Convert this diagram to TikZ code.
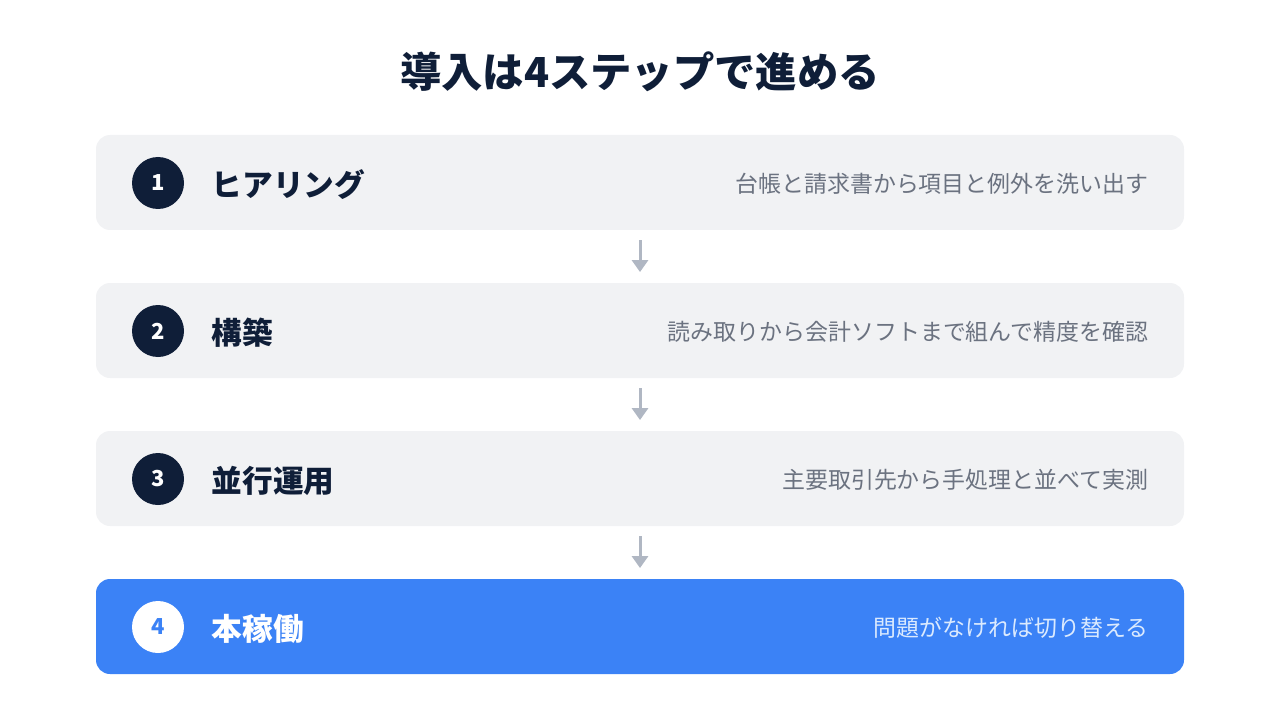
\documentclass[tikz,border=0pt]{standalone}
\usepackage{fontspec}
\setmainfont{Noto Sans CJK JP}
\usetikzlibrary{arrows.meta}
\definecolor{ink}{HTML}{0F1E38}
\definecolor{panel}{HTML}{F1F2F4}
\definecolor{note}{HTML}{6B7280}
\definecolor{accent}{HTML}{3B82F6}
\definecolor{pale}{HTML}{DBEAFE}
\definecolor{flow}{HTML}{B0B7C3}
\begin{document}
\begin{tikzpicture}[x=0.75pt,y=-0.75pt,
	stepbox/.style={rectangle,rounded corners=10.5pt,fill=panel,minimum width=816pt,minimum height=71.25pt,inner sep=0pt},
	num/.style={circle,fill=ink,text=white,minimum size=39pt,inner sep=0pt,font=\fontsize{16.5}{16.5}\selectfont\bfseries},
	head/.style={anchor=west,text=ink,font=\fontsize{23}{23}\selectfont\bfseries},
	desc/.style={anchor=east,text=note,font=\fontsize{17.2}{17.2}\selectfont},
	next/.style={-{Triangle[width=12pt,length=9pt]},draw=flow,line width=2.25pt,shorten <=7.5pt,shorten >=8pt}]
	\useasboundingbox (0,0) rectangle (1280,720);
	\node[text=ink,font=\fontsize{31}{31}\selectfont\bfseries] (title) at (640,72) {導入は4ステップで進める};
	\node[stepbox] (b1) at (640,182.5) {};
	\node[stepbox] (b2) at (640,330.5) {};
	\node[stepbox] (b3) at (640,478.5) {};
	\node[stepbox,fill=accent] (b4) at (640,626.5) {};
	\node[num] (n1) at (158,183) {1};
	\node[num] (n2) at (158,331) {2};
	\node[num] (n3) at (158,479) {3};
	\node[num,fill=white,text=accent] (n4) at (158,627) {4};
	\node[head] (h1) at (207,184.5) {ヒアリング};
	\node[head] (h2) at (207,332.5) {構築};
	\node[head] (h3) at (207,480.5) {並行運用};
	\node[head,text=white] (h4) at (207,628.5) {本稼働};
	\node[desc] (d1) at (1153,184) {台帳と請求書から項目と例外を洗い出す};
	\node[desc] (d2) at (1153,332) {読み取りから会計ソフトまで組んで精度を確認};
	\node[desc] (d3) at (1153,480) {主要取引先から手処理と並べて実測};
	\node[desc,text=pale] (d4) at (1153,628) {問題がなければ切り替える};
	\draw[next] (b1) -- (b2);
	\draw[next] (b2) -- (b3);
	\draw[next] (b3) -- (b4);
\end{tikzpicture}
\end{document}
